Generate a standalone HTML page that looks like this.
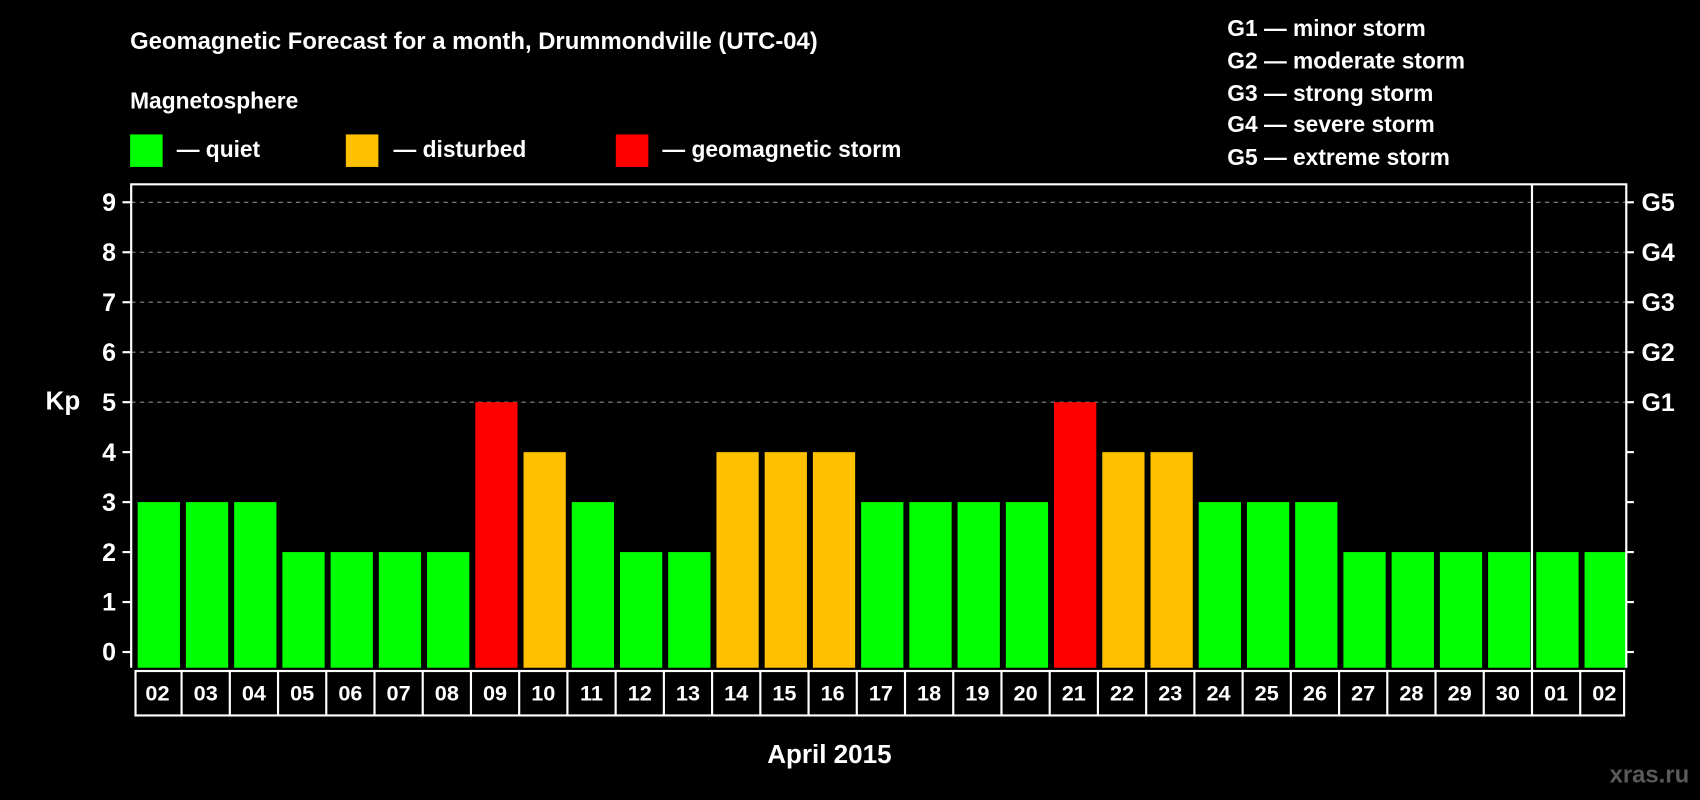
<!DOCTYPE html>
<html><head><meta charset="utf-8"><style>html,body{margin:0;padding:0;background:#000;}svg{display:block;}text{font-family:"Liberation Sans",sans-serif;font-weight:bold;fill:#fff;}</style></head>
<body>
<svg width="1700" height="800" viewBox="0 0 1568 738" preserveAspectRatio="none" xmlns="http://www.w3.org/2000/svg">
<rect width="1568" height="738" fill="#000"/>
<text x="120" y="45" font-size="22">Geomagnetic Forecast for a month, Drummondville (UTC-04)</text>
<text x="120" y="100" font-size="21">Magnetosphere</text>
<g><rect x="120" y="124" width="30" height="30" fill="#00ff00"/><text x="163" y="145" font-size="21">— quiet</text></g>
<g><rect x="319" y="124" width="30" height="30" fill="#ffc000"/><text x="363" y="145" font-size="21">— disturbed</text></g>
<g><rect x="568" y="124" width="30" height="30" fill="#ff0000"/><text x="611" y="145" font-size="21">— geomagnetic storm</text></g>
<g font-size="21">
<text x="1132" y="33" font-size="21">G1 — minor storm</text>
<text x="1132" y="63" font-size="21">G2 — moderate storm</text>
<text x="1132" y="93" font-size="21">G3 — strong storm</text>
<text x="1132" y="122" font-size="21">G4 — severe storm</text>
<text x="1132" y="152" font-size="21">G5 — extreme storm</text>
</g>
<text x="58" y="378" font-size="24" text-anchor="middle">Kp</text>
<text x="765" y="704" font-size="24" text-anchor="middle">April 2015</text>
<text x="1558" y="722" font-size="22" text-anchor="end" fill="#555" style="fill:#5a5a5a">xras.ru</text>
<g id="grid"></g><g id="bars"></g><g id="axes"></g>
</svg>
<script>
const days=["02","03","04","05","06","07","08","09","10","11","12","13","14","15","16","17","18","19","20","21","22","23","24","25","26","27","28","29","30","01","02"];
const kp=[3,3,3,2,2,2,2,5,4,3,2,2,4,4,4,3,3,3,3,5,4,4,3,3,3,2,2,2,2,2,2];
const yTicks=[0,1,2,3,4,5,6,7,8,9];
const gLabels=["G1","G2","G3","G4","G5"];
const NS="http://www.w3.org/2000/svg";
const L=121,R=1500,T=170,B=616,Y0=601.5,U=46.1;
const pitch=(R-L)/days.length;
const y=v=>Y0-v*U;
const x=i=>L+i*pitch;
function mk(t,a,p){const e=document.createElementNS(NS,t);for(const k in a)e.setAttribute(k,a[k]);p.appendChild(e);return e;}
const grid=document.getElementById('grid'),bars=document.getElementById('bars'),axes=document.getElementById('axes');
yTicks.forEach(v=>{
 if(v>=5){const g=mk('line',{x1:L,x2:R,y1:y(v),y2:y(v),stroke:'#888','stroke-dasharray':'4 4','stroke-width':1},grid);
 
 }
 mk('line',{x1:L-8,x2:L,y1:y(v),y2:y(v),stroke:'#fff','stroke-width':2},axes);
 mk('line',{x1:R,x2:R+7,y1:y(v),y2:y(v),stroke:'#fff','stroke-width':2},axes);
 const t=mk('text',{x:L-14,y:y(v)+8,'font-size':23,'text-anchor':'end'},axes);t.textContent=v;
 
 
 if(v>=5){const g=mk('text',{x:R+14,y:y(v)+8,'font-size':23},axes);g.textContent=gLabels[v-5];
 
 }
});
kp.forEach((v,i)=>{
 const c=v>=5?'#ff0000':v>=4?'#ffc000':'#00ff00';
 const r=mk('rect',{x:x(i)+6,y:y(v),width:pitch-5.5,height:B-y(v),fill:c},bars);
 
 
 const d=mk('text',{x:x(i)+pitch/2+2,y:646,'font-size':20,'text-anchor':'middle'},axes);d.textContent=days[i];
 
 
 if(i>0)mk('line',{x1:x(i)+2,x2:x(i)+2,y1:619,y2:660,stroke:'#fff','stroke-width':2},axes);
});
mk('rect',{x:L+4,y:619,width:R-L-6,height:41,fill:'none',stroke:'#fff','stroke-width':2},axes);
mk('polyline',{points:`${L},${B} ${L},${T} ${R},${T} ${R},${B}`,fill:'none',stroke:'#fff','stroke-width':2},axes);
mk('line',{x1:x(29)+2,x2:x(29)+2,y1:T,y2:619,stroke:'#fff','stroke-width':2},axes);
</script>
</body></html>
